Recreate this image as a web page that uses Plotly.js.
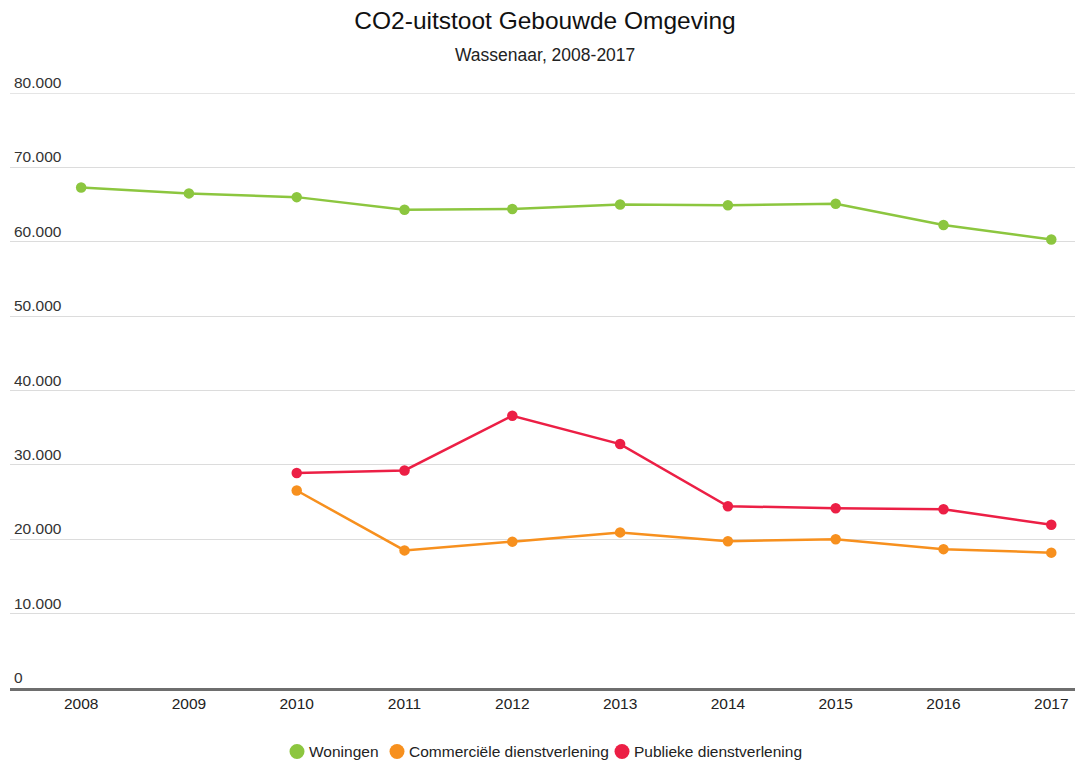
<!DOCTYPE html>
<html>
<head>
<meta charset="utf-8">
<script src="https://cdn.plot.ly/plotly-3.0.1.min.js"></script>
<style>html,body{margin:0;padding:0;background:#fff;}#chart{width:1076px;height:762px;}</style>
</head>
<body>
<div id="chart"></div>
<script>
const years = [2008, 2009, 2010, 2011, 2012, 2013, 2014, 2015, 2016, 2017];
const woningen = [67300, 66500, 66000, 64300, 64400, 65000, 64900, 65100, 62250, 60300];
const commercieel = [null, null, 26550, 18500, 19680, 20920, 19740, 20000, 18670, 18200];
const publiek = [null, null, 28900, 29250, 36600, 32800, 24440, 24170, 24040, 21950];
const seriesNames = ['Woningen', 'Commerciële dienstverlening', 'Publieke dienstverlening'];
const seriesColors = ['#8cc63f', '#f7901e', '#ec1f45'];
const yTicks = [0, 10000, 20000, 30000, 40000, 50000, 60000, 70000, 80000];
const yTickLabels = ['0', '10.000', '20.000', '30.000', '40.000', '50.000', '60.000', '70.000', '80.000'];

const W = 1076, H = 762;
const M = {l: 10, r: 1, t: 93, b: 73.5};
const plotW = W - M.l - M.r, plotH = H - M.t - M.b;
const px2paperX = px => (px - M.l) / plotW;

const values = [woningen, commercieel, publiek];
const traces = values.map((v, i) => ({
  x: years, y: v, type: 'scatter', mode: 'lines+markers',
  name: seriesNames[i], showlegend: false,
  line: {color: seriesColors[i], width: 2.5},
  marker: {color: seriesColors[i], size: 10.5},
  hoverinfo: 'x+y'
}));

const annotations = [];
const shapes = [];
// top grid line (Plotly omits grid at the range edge)
shapes.push({
  type: 'line', xref: 'paper', yref: 'y', x0: 0, x1: 1,
  y0: yTicks[yTicks.length - 1], y1: yTicks[yTicks.length - 1],
  line: {color: '#dcdcdc', width: 1.3}, layer: 'below'
});
// y tick labels above grid lines
yTicks.forEach((t, i) => {
  annotations.push({
    text: yTickLabels[i], xref: 'paper', yref: 'y', x: px2paperX(12), y: t,
    xanchor: 'left', yanchor: 'bottom', yshift: 0, showarrow: false,
    font: {size: 15.5, color: '#333'}
  });
});
// subtitle
annotations.push({
  text: 'Wassenaar, 2008-2017', xref: 'paper', yref: 'paper',
  x: px2paperX(545), y: 1, yshift: 38, xanchor: 'center', yanchor: 'middle',
  showarrow: false, font: {size: 17.5, color: '#222'}
});
// legend (manual, circle + text)
const legendY = (H - M.b - 752) / plotH;
const legendCircleX = [297, 397, 622];
seriesNames.forEach((n, i) => {
  const cx = px2paperX(legendCircleX[i]);
  shapes.push({
    type: 'circle', xref: 'paper', yref: 'paper', xsizemode: 'pixel', ysizemode: 'pixel',
    xanchor: cx, yanchor: legendY, x0: -7.5, x1: 7.5, y0: -7.5, y1: 7.5,
    fillcolor: seriesColors[i], line: {width: 0}
  });
  annotations.push({
    text: n, xref: 'paper', yref: 'paper', x: px2paperX(legendCircleX[i] + 10), y: legendY,
    xanchor: 'left', yanchor: 'middle', showarrow: false,
    font: {size: 15.5, color: '#222'}
  });
});

const layout = {
  width: W, height: H,
  paper_bgcolor: '#fff', plot_bgcolor: '#fff',
  font: {family: 'Liberation Sans, Arial, sans-serif', color: '#333', size: 15.5},
  margin: M,
  title: {
    text: 'CO2-uitstoot Gebouwde Omgeving',
    font: {size: 24.5, color: '#111'},
    x: 545 / W, xanchor: 'center', y: 1 - 20 / H, yanchor: 'middle'
  },
  annotations: annotations,
  shapes: shapes,
  xaxis: {
    type: 'linear', range: [2007.34, 2017.22],
    tickvals: years, ticktext: years.map(String),
    showgrid: false, zeroline: false,
    showline: true, linecolor: '#6e6e6e', linewidth: 2.5,
    ticks: '', tickfont: {size: 15.5, color: '#222'},
    fixedrange: true
  },
  yaxis: {
    range: [0, 80000], tickvals: yTicks, showticklabels: false,
    showgrid: true, gridcolor: '#dcdcdc', gridwidth: 1.3,
    zeroline: false, showline: false, ticks: '',
    fixedrange: true
  },
  showlegend: false
};

Plotly.newPlot('chart', traces, layout, {displayModeBar: false});
</script>
</body>
</html>
